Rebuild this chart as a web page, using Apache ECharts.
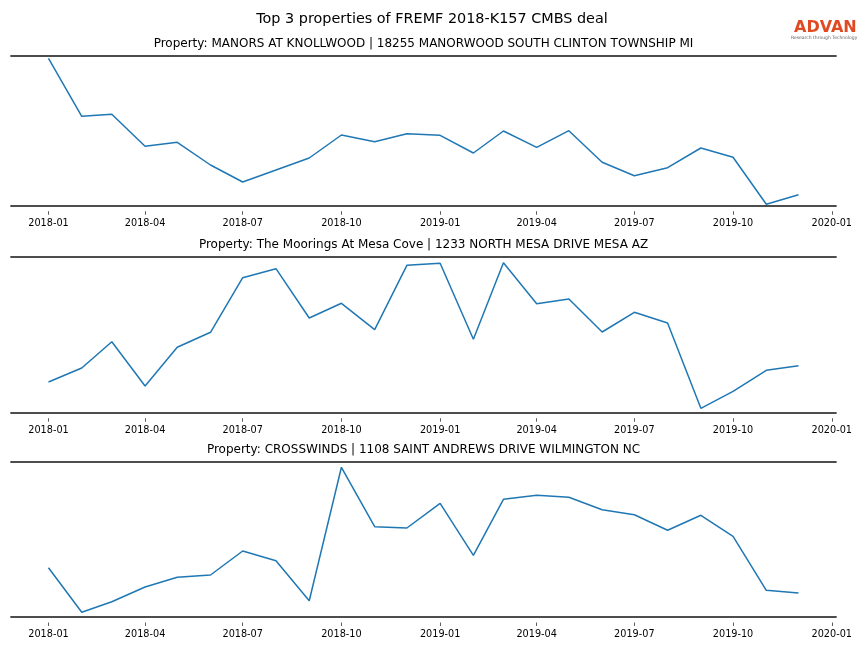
<!DOCTYPE html>
<html>
<head>
<meta charset="utf-8">
<script src="https://cdn.jsdelivr.net/npm/echarts@6/dist/echarts.min.js"></script>
<style>
html,body{margin:0;padding:0;background:#fff;}
#chart{width:864px;height:648px;}
</style>
</head>
<body>
<div id="chart"></div>
<script>
// ---- data ----
const months = ['2018-01','2018-02','2018-03','2018-04','2018-05','2018-06','2018-07','2018-08','2018-09','2018-10','2018-11','2018-12',
                '2019-01','2019-02','2019-03','2019-04','2019-05','2019-06','2019-07','2019-08','2019-09','2019-10','2019-11','2019-12'];
const tickLabels = ['2018-01','2018-04','2018-07','2018-10','2019-01','2019-04','2019-07','2019-10','2020-01'];
const mainTitle = 'Top 3 properties of FREMF 2018-K157 CMBS deal';
const propertyTitles = [
  'Property: MANORS AT KNOLLWOOD | 18255 MANORWOOD SOUTH CLINTON TOWNSHIP MI',
  'Property: The Moorings At Mesa Cove | 1233 NORTH MESA DRIVE MESA AZ',
  'Property: CROSSWINDS | 1108 SAINT ANDREWS DRIVE WILMINGTON NC'
];
// relative activity index (no y scale shown in the reference)
const manorsValues = [147.4, 89.4, 91.4, 59.4, 63.4, 40.7, 23.7, 35.7, 47.7, 70.7, 64.0, 72.0,
                      70.4, 52.7, 74.7, 58.4, 75.0, 43.4, 30.0, 38.0, 57.7, 48.4, 1.4, 11.0];
const mooringsValues = [30.7, 44.7, 71.0, 26.7, 65.4, 80.4, 135.0, 144.0, 94.7, 109.4, 83.0, 147.4,
                        149.4, 73.4, 150.0, 109.0, 113.7, 80.7, 100.4, 89.7, 4.4, 21.4, 42.4, 47.0];
const crosswindsValues = [49.3, 4.7, 15.3, 30.0, 39.7, 42.0, 66.0, 56.3, 16.3, 149.7, 90.3, 89.0,
                          113.7, 61.7, 117.7, 121.7, 119.7, 107.3, 102.3, 86.7, 101.7, 80.7, 26.7, 24.0];
const seriesValues = [manorsValues, mooringsValues, crosswindsValues];
const yRanges = [[0, 150], [0, 156], [0, 155.3]];

// ---- helpers ----
function ts(s) { const p = s.split('-'); return Date.UTC(+p[0], +p[1] - 1, 1); }
const firstT = ts(months[0]), lastT = ts(months[months.length - 1]);
const pad = (lastT - firstT) * 0.05;
const xMin = firstT - pad, xMax = lastT + pad;
const tickValues = tickLabels.map(ts);
function fmt(v) { const i = tickValues.indexOf(v); return i >= 0 ? tickLabels[i] : ''; }

const FONT = 'DejaVu Sans';
const grids = [
  { left: 11, right: 28, top: 55.7, height: 150 },
  { left: 11, right: 28, top: 256.7, height: 156 },
  { left: 11, right: 28, top: 461.7, height: 155.3 }
];
const spine = { show: true, lineStyle: { color: '#4d4d4d', width: 1.8 } };

const xAxes = [], yAxes = [], series = [], titles = [];
grids.forEach((g, i) => {
  xAxes.push({ type: 'value', gridIndex: i, min: xMin, max: xMax, position: 'bottom',
    axisLine: spine, axisTick: { show: false }, axisLabel: { show: false }, splitLine: { show: false } });
  xAxes.push({ type: 'value', gridIndex: i, min: xMin, max: xMax, position: 'bottom', offset: 5.5,
    axisLine: { show: false },
    axisTick: { show: true, length: 3.5, lineStyle: { color: '#333', width: 0.8 }, customValues: tickValues },
    axisLabel: { show: true, customValues: tickValues, formatter: fmt, fontFamily: FONT, fontSize: 9.7, color: '#000', margin: 7 },
    splitLine: { show: false } });
  xAxes.push({ type: 'value', gridIndex: i, min: xMin, max: xMax, position: 'top',
    axisLine: spine, axisTick: { show: false }, axisLabel: { show: false }, splitLine: { show: false } });
  yAxes.push({ type: 'value', gridIndex: i, min: yRanges[i][0], max: yRanges[i][1],
    axisLine: { show: false }, axisTick: { show: false }, axisLabel: { show: false }, splitLine: { show: false } });
  series.push({ type: 'line', xAxisIndex: i * 3, yAxisIndex: i, showSymbol: false, symbol: 'none',
    lineStyle: { color: '#1f77b4', width: 1.5 }, animation: false,
    data: months.map((m, k) => [ts(m), seriesValues[i][k]]) });
  titles.push({ text: propertyTitles[i], left: (g.left + 864 - g.right) / 2, textAlign: 'center', top: g.top - 17.5, padding: 0,
    textStyle: { fontFamily: FONT, fontSize: 12, fontWeight: 'normal', color: '#000' } });
});
titles.unshift({ text: mainTitle, left: 432, textAlign: 'center', top: 12.5, padding: 0,
  textStyle: { fontFamily: FONT, fontSize: 14.4, fontWeight: 'normal', color: '#000' } });

const chart = echarts.init(document.getElementById('chart'), null, { renderer: 'canvas' });
chart.setOption({
  backgroundColor: '#fff',
  animation: false,
  title: titles,
  grid: grids,
  xAxis: xAxes,
  yAxis: yAxes,
  series: series,
  graphic: [
    { type: 'text', left: 794, top: 19.5, style: { text: 'ADVAN', font: 'bold 16px "DejaVu Sans"', fill: '#e04a23' } },
    { type: 'text', left: 791, top: 35, style: { text: 'Research through Technology', font: '4.5px "DejaVu Sans"', fill: '#666' } }
  ]
});
</script>
</body>
</html>
